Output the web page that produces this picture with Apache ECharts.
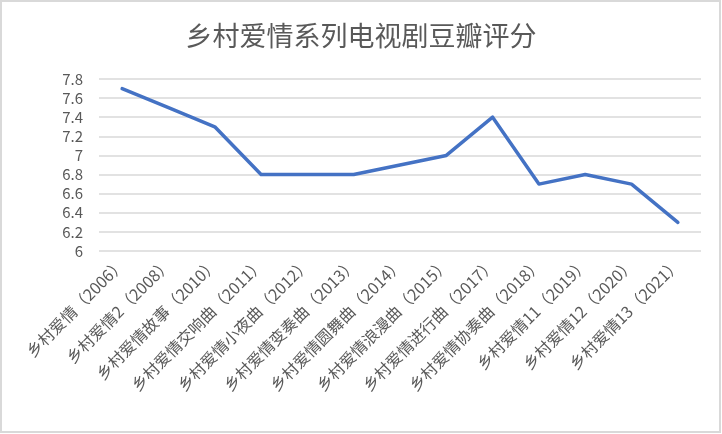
<!DOCTYPE html>
<html>
<head>
<meta charset="utf-8">
<script src="https://cdn.jsdelivr.net/npm/echarts@6/dist/echarts.min.js"></script>
<style>
html,body{margin:0;padding:0;background:#fff;}
#chart{width:722px;height:434px;}
</style>
</head>
<body>
<div id="chart"></div>
<script>
const titleText = '乡村爱情系列电视剧豆瓣评分';
const categories = [
  '乡村爱情（2006）',
  '乡村爱情2（2008）',
  '乡村爱情故事（2010）',
  '乡村爱情交响曲（2011）',
  '乡村爱情小夜曲（2012）',
  '乡村爱情变奏曲（2013）',
  '乡村爱情圆舞曲（2014）',
  '乡村爱情浪漫曲（2015）',
  '乡村爱情进行曲（2017）',
  '乡村爱情协奏曲（2018）',
  '乡村爱情11（2019）',
  '乡村爱情12（2020）',
  '乡村爱情13（2021）'
];
const scores = [7.7, 7.5, 7.3, 6.8, 6.8, 6.8, 6.9, 7.0, 7.4, 6.7, 6.8, 6.7, 6.3];
const yMin = 6, yMax = 7.8, yStep = 0.2;

const font = '"Noto Sans CJK SC", "Noto Sans", sans-serif';
const chart = echarts.init(document.getElementById('chart'), null, {renderer: 'canvas'});
chart.setOption({
  backgroundColor: '#ffffff',
  animation: false,
  title: {
    text: titleText,
    left: 'center',
    top: 17,
    textStyle: {fontFamily: font, fontSize: 27, fontWeight: 'normal', color: '#595959'}
  },
  graphic: [{
    type: 'rect',
    shape: {x: 1, y: 1, width: 719, height: 431},
    style: {fill: 'none', stroke: '#d9d9d9', lineWidth: 2},
    silent: true
  }],
  grid: {left: 99, right: 21, top: 79, bottom: 183, containLabel: false},
  xAxis: {
    type: 'category',
    data: categories,
    boundaryGap: true,
    axisLine: {show: false},
    axisTick: {show: false},
    axisLabel: {
      rotate: 45,
      interval: 0,
      margin: 10,
      fontFamily: font,
      fontSize: 16,
      color: '#595959'
    }
  },
  yAxis: {
    type: 'value',
    min: yMin,
    max: yMax,
    interval: yStep,
    axisLine: {show: false},
    axisTick: {show: false},
    axisLabel: {
      margin: 16,
      fontFamily: font,
      fontSize: 15,
      color: '#595959',
      formatter: v => String(Math.round(v * 10) / 10)
    },
    splitLine: {lineStyle: {color: '#d9d9d9', width: 1.5}}
  },
  series: [{
    type: 'line',
    data: scores,
    symbol: 'none',
    lineStyle: {color: '#4472c4', width: 3.5, cap: 'round', join: 'round'},
    itemStyle: {color: '#4472c4'}
  }]
});
</script>
</body>
</html>
